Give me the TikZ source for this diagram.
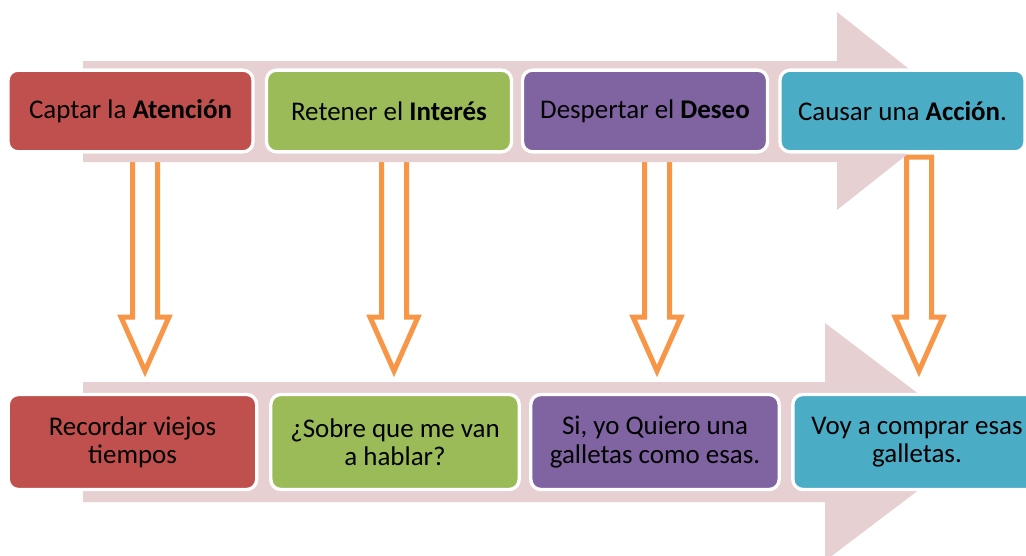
\documentclass[tikz,border=0pt]{standalone}
\usepackage{fontspec}
\setmainfont{Carlito}
\usetikzlibrary{positioning}

\definecolor{rojo}{RGB}{192,80,77}
\definecolor{verde}{RGB}{155,187,89}
\definecolor{morado}{RGB}{128,100,162}
\definecolor{celeste}{RGB}{75,172,198}
\definecolor{naranja}{RGB}{247,150,70}
\definecolor{rosa}{RGB}{231,208,209}

\begin{document}
\begin{tikzpicture}[x=0.03cm, y=-0.03cm,
  paso/.style={rectangle, rounded corners=0.3cm, draw=white, line width=0.1cm, minimum width=7.35cm, minimum height=2.45cm, text centered, align=center, font=\fontsize{23}{24}\selectfont},
  efecto/.style={paso, minimum width=7.45cm, minimum height=2.85cm},
  hueca/.style={draw=naranja, line width=0.15cm, fill=white, line join=miter}
]
  \useasboundingbox (0,0) rectangle (1026,556);

  % flechas huecas hacia abajo
  \foreach \x/\top in {145/150, 394/150, 657/150, 919/157}
    \draw[hueca] (\x-12.5,\top) -- (\x-12.5,317) -- (\x-24,317) -- (\x,371)
      -- (\x+24,317) -- (\x+12.5,317) -- (\x+12.5,\top) -- cycle;

  % flechas de fondo
  \fill[rosa] (83,61) -- (837,61) -- (837,12) -- (962,111) -- (837,210) -- (837,162) -- (83,162) -- cycle;
  \fill[rosa] (83,382) -- (825,382) -- (825,323) -- (982,442) -- (825,561) -- (825,502) -- (83,502) -- cycle;

  % fila de arriba
  \node[paso, fill=rojo] (atencion) at (130.5,111) {Captar la \textbf{Atención}};
  \node[paso, fill=verde] (interes) at (389,111) {Retener el \textbf{Interés}};
  \node[paso, fill=morado] (deseo) at (645,111) {Despertar el \textbf{Deseo}};
  \node[paso, fill=celeste] (accion) at (902.5,111) {Causar una \textbf{Acción}.};

  % fila de abajo
  \node[efecto, fill=rojo] (recordar) at (132.5,442) {Recordar viejos\\tiempos};
  \node[efecto, fill=verde] (hablar) at (395,442) {¿Sobre que me van\\a hablar?};
  \node[efecto, fill=morado] (quiero) at (655,442) {Si, yo Quiero una\\galletas como esas.};
  \node[efecto, fill=celeste] (comprar) at (917,442) {Voy a comprar esas\\galletas.};
\end{tikzpicture}
\end{document}
